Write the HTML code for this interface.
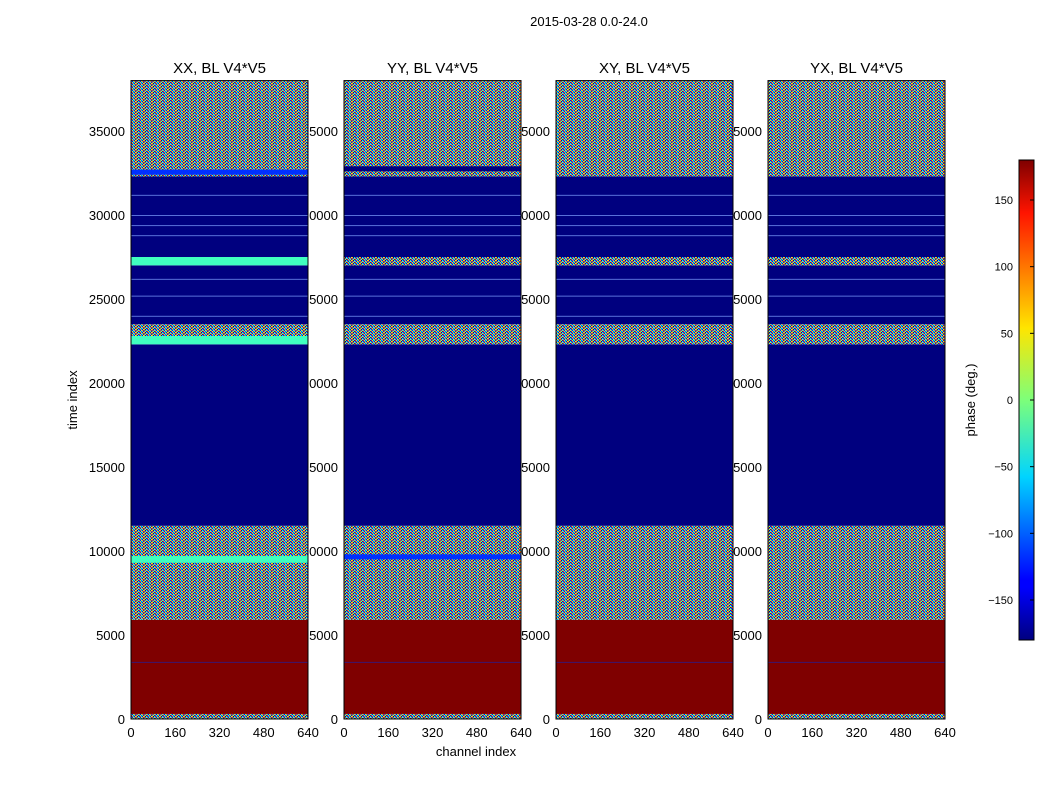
<!DOCTYPE html>
<html><head><meta charset="utf-8"><style>
body{margin:0;background:#fff;}
svg text{font-family:"Liberation Sans","DejaVu Sans",sans-serif;}
</style></head><body>
<svg id="chart" width="1050" height="800" xmlns="http://www.w3.org/2000/svg">
<defs>
<pattern id="noise" width="16" height="6" patternUnits="userSpaceOnUse" patternTransform="scale(0.5)">
<rect width="16" height="6" fill="#40ffb7"/>
<rect x="0" y="0" width="2" height="2" fill="#ff3000"/><rect x="2" y="0" width="2" height="2" fill="#0070ff"/>
<rect x="4" y="0" width="2" height="2" fill="#ffe000"/><rect x="6" y="0" width="2" height="2" fill="#00d4ff"/>
<rect x="8" y="0" width="2" height="2" fill="#0000ff"/><rect x="10" y="0" width="2" height="2" fill="#a0ff56"/>
<rect x="12" y="0" width="2" height="2" fill="#ff9000"/><rect x="14" y="0" width="2" height="2" fill="#0040ff"/>
<rect x="0" y="2" width="2" height="2" fill="#00a0ff"/><rect x="2" y="2" width="2" height="2" fill="#f0ff00"/>
<rect x="4" y="2" width="2" height="2" fill="#0000cc"/><rect x="6" y="2" width="2" height="2" fill="#ff2000"/>
<rect x="8" y="2" width="2" height="2" fill="#7dff7a"/><rect x="10" y="2" width="2" height="2" fill="#0060ff"/>
<rect x="12" y="2" width="2" height="2" fill="#16ffe1"/><rect x="14" y="2" width="2" height="2" fill="#c00000"/>
<rect x="0" y="4" width="2" height="2" fill="#ffb000"/><rect x="2" y="4" width="2" height="2" fill="#00007f"/>
<rect x="4" y="4" width="2" height="2" fill="#00e0ff"/><rect x="6" y="4" width="2" height="2" fill="#0020ff"/>
<rect x="8" y="4" width="2" height="2" fill="#ff5000"/><rect x="10" y="4" width="2" height="2" fill="#00c0ff"/>
<rect x="12" y="4" width="2" height="2" fill="#0000e0"/><rect x="14" y="4" width="2" height="2" fill="#ffff00"/>
</pattern>
<linearGradient id="jet" x1="0" y1="1" x2="0" y2="0">
<stop offset="0" stop-color="#00007f"/><stop offset="0.11" stop-color="#0000ff"/>
<stop offset="0.125" stop-color="#0000ff"/><stop offset="0.34" stop-color="#00d4ff"/>
<stop offset="0.5" stop-color="#7dff7a"/><stop offset="0.65" stop-color="#ffe500"/>
<stop offset="0.89" stop-color="#ff1400"/><stop offset="1" stop-color="#7f0000"/>
</linearGradient>
</defs>
<text x="589" y="26" font-size="13" text-anchor="middle">2015-03-28 0.0-24.0</text>
<text transform="translate(77,400) rotate(-90)" font-size="13" text-anchor="middle">time index</text>
<text x="476" y="756" font-size="13" text-anchor="middle">channel index</text>
<g id="labels"></g>
<g id="panels"></g>
<g id="cbar"></g>
</svg>
<script>
const titles=["XX, BL V4*V5","YY, BL V4*V5","XY, BL V4*V5","YX, BL V4*V5"];
const yTicks=[0,5000,10000,15000,20000,25000,30000,35000];
const xTicks=[0,160,320,480,640];
const cbTicks=[150,100,50,0,-50,-100,-150];
// segments: [start, end, kind] kinds: noise, red, navy, cyan, blue
const segXX=[[0,300,"noise"],[300,5900,"red"],[5900,11500,"noise"],[9300,9700,"cyan"],[11500,22300,"navy"],[22300,22800,"cyan"],[22800,23500,"noise"],[23500,27000,"navy"],[27000,27500,"cyan"],[27500,32300,"navy"],[32300,38000,"noise"],[32400,32700,"blue"]];
const segYY=[[0,300,"noise"],[300,5900,"red"],[5900,11500,"noise"],[9500,9800,"blue"],[11500,22300,"navy"],[22300,23500,"noise"],[23500,27000,"navy"],[27000,27500,"noise"],[27500,32300,"navy"],[32300,38000,"noise"],[32600,32900,"navy"]];
const segXY=[[0,300,"noise"],[300,5900,"red"],[5900,11500,"noise"],[11500,22300,"navy"],[22300,23500,"noise"],[23500,27000,"navy"],[27000,27500,"noise"],[27500,32300,"navy"],[32300,38000,"noise"]];
const segYX=segXY;
const panelSegs=[segXX,segYY,segXY,segYX];
const lines=[3400,24000,25200,26200,28800,29400,30000,31200];
const panelX=[131,344,556,768], pw=177, y0=719, y1=80.6, ymax=38000, xmax=640;
const ys=v=>y0-(v/ymax)*(y0-y1);
const colors={red:"#7f0000",navy:"#00007f",cyan:"#40ffc0",blue:"#0030ff",noise:"url(#noise)"};
const NS="http://www.w3.org/2000/svg";
function mk(t,a,p){const e=document.createElementNS(NS,t);for(const k in a)e.setAttribute(k,a[k]);p.appendChild(e);return e;}
const L=document.getElementById("labels"),P=document.getElementById("panels");
panelX.forEach((px,i)=>{
  yTicks.forEach(v=>{const t=mk("text",{x:px-6,y:ys(v)+5,"font-size":13,"text-anchor":"end"},L);t.textContent=v;
    
    });
  const xs=c=>px+c/xmax*pw;
  xTicks.forEach(v=>{const t=mk("text",{x:xs(v),y:737,"font-size":13,"text-anchor":"middle"},L);t.textContent=v;
    
    });
  const g=mk("g",{},P);
  
  
  panelSegs[i].forEach(s=>{const r=mk("rect",{x:px,y:ys(s[1]),width:pw,height:ys(s[0])-ys(s[1]),fill:colors[s[2]]},g);
    
    });
  lines.forEach(v=>{const r=mk("rect",{x:px,y:ys(v),width:pw,height:1,fill:v<6000?"#2020a0":"#7fa0ff",opacity:0.7},g);
    
    });
  const f=mk("rect",{x:px,y:y1,width:pw,height:y0-y1,fill:"none",stroke:"#000"},g);
  
  
  const tt=mk("text",{x:px+pw/2,y:73,"font-size":15,"text-anchor":"middle"},g);tt.textContent=titles[i];
  
  
});
const C=document.getElementById("cbar");
const cy=v=>640-(v+180)/360*480;
const cb=mk("rect",{x:1019,y:160,width:15,height:480,fill:"url(#jet)",stroke:"#000"},C);


cbTicks.forEach(v=>{mk("line",{x1:1030,x2:1034,y1:cy(v),y2:cy(v),stroke:"#000"},C);
  const t=mk("text",{x:1013,y:cy(v)+4,"font-size":11,"text-anchor":"end"},C);t.textContent=v===0?"0":(v<0?"\u2212"+(-v):v);
  
  });
const cl=mk("text",{transform:"translate(975,400) rotate(-90)","font-size":13,"text-anchor":"middle"},C);cl.textContent="phase (deg.)";


</script>
</body></html>
